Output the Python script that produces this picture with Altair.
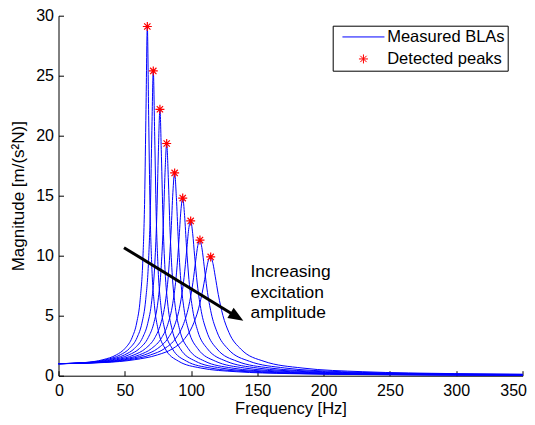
import altair as alt
import pandas as pd

FONT = "Liberation Sans"

# ---- data ----
peak_freq = [67.0, 71.5, 76.5, 81.6, 87.6, 93.7, 99.7, 106.7, 114.8]
peak_mag = [29.1, 25.4, 22.2, 19.35, 16.9, 14.8, 12.9, 11.3, 9.9]

freq_1 = [0, 20.1, 33.5, 43.55, 50.25, 55.61, 58.96, 61.64, 63.65, 64.99, 66.0, 67.0, 68.0, 69.01, 70.35, 72.36, 75.04, 80.4, 90.45, 107.2, 134.0, 174.2, 234.5, 350]
mag_1 = [1.0, 1.099, 1.333, 1.732, 2.282, 3.201, 4.393, 6.377, 9.726, 14.74, 22.18, 29.1, 21.67, 14.2, 9.203, 5.865, 3.887, 2.263, 1.214, 0.641, 0.333, 0.174, 0.089, 0.038]

freq_2 = [0, 21.45, 35.75, 46.48, 53.63, 59.35, 62.92, 65.78, 67.93, 69.36, 70.43, 71.5, 72.57, 73.65, 75.08, 77.22, 80.08, 85.8, 96.53, 114.4, 143.0, 185.9, 250.3, 350]
mag_2 = [1.0, 1.099, 1.333, 1.732, 2.281, 3.197, 4.381, 6.337, 9.576, 14.21, 20.45, 25.4, 19.96, 13.67, 9.048, 5.822, 3.873, 2.26, 1.213, 0.641, 0.333, 0.174, 0.089, 0.044]

freq_3 = [0, 22.95, 38.25, 49.73, 57.38, 63.5, 67.32, 70.38, 72.68, 74.21, 75.35, 76.5, 77.65, 78.8, 80.33, 82.62, 85.68, 91.8, 103.3, 122.4, 153.0, 198.9, 267.8, 350]
mag_3 = [1.0, 1.099, 1.333, 1.732, 2.279, 3.191, 4.366, 6.286, 9.392, 13.61, 18.71, 22.2, 18.25, 13.06, 8.858, 5.768, 3.856, 2.256, 1.212, 0.641, 0.333, 0.174, 0.089, 0.05]

freq_4 = [0, 24.48, 40.8, 53.04, 61.2, 67.73, 71.81, 75.07, 77.52, 79.15, 80.38, 81.6, 82.82, 84.05, 85.68, 88.13, 91.39, 97.92, 110.2, 130.6, 163.2, 212.2, 285.6, 350]
mag_4 = [1.0, 1.099, 1.333, 1.732, 2.277, 3.184, 4.345, 6.219, 9.161, 12.9, 16.96, 19.35, 16.52, 12.36, 8.622, 5.698, 3.833, 2.25, 1.211, 0.641, 0.333, 0.174, 0.089, 0.058]

freq_5 = [0, 26.28, 43.8, 56.94, 65.7, 72.71, 77.09, 80.59, 83.22, 84.97, 86.29, 87.6, 88.91, 90.23, 91.98, 94.61, 98.11, 105.1, 118.3, 140.2, 175.2, 227.8, 306.6, 350]
mag_5 = [1.0, 1.099, 1.333, 1.732, 2.274, 3.175, 4.319, 6.136, 8.886, 12.14, 15.28, 16.9, 14.87, 11.61, 8.343, 5.61, 3.804, 2.244, 1.21, 0.641, 0.333, 0.174, 0.089, 0.067]

freq_6 = [0, 28.11, 46.85, 60.91, 70.28, 77.77, 82.46, 86.2, 89.02, 90.89, 92.29, 93.7, 95.11, 96.51, 98.39, 101.2, 104.9, 112.4, 126.5, 149.9, 187.4, 243.6, 328.0, 350]
mag_6 = [1.0, 1.099, 1.333, 1.732, 2.271, 3.163, 4.286, 6.035, 8.567, 11.33, 13.72, 14.8, 13.34, 10.81, 8.022, 5.504, 3.768, 2.235, 1.208, 0.641, 0.333, 0.174, 0.089, 0.077]

freq_7 = [0, 29.91, 49.85, 64.81, 74.78, 82.75, 87.74, 91.72, 94.72, 96.71, 98.2, 99.7, 101.2, 102.7, 104.7, 107.7, 111.7, 119.6, 134.6, 159.5, 199.4, 259.2, 350]
mag_7 = [1.0, 1.099, 1.333, 1.732, 2.266, 3.148, 4.243, 5.905, 8.184, 10.46, 12.2, 12.9, 11.86, 9.958, 7.64, 5.368, 3.72, 2.224, 1.206, 0.641, 0.333, 0.174, 0.088]

freq_8 = [0, 32.01, 53.35, 69.36, 80.03, 88.56, 93.9, 98.16, 101.4, 103.5, 105.1, 106.7, 108.3, 109.9, 112.0, 115.2, 119.5, 128.0, 144.0, 170.7, 213.4, 277.4, 350]
mag_8 = [1.0, 1.099, 1.333, 1.732, 2.26, 3.128, 4.19, 5.752, 7.768, 9.595, 10.86, 11.3, 10.55, 9.122, 7.228, 5.211, 3.663, 2.209, 1.203, 0.641, 0.333, 0.174, 0.107]

freq_9 = [0, 34.44, 57.4, 74.62, 86.1, 95.28, 101.0, 105.6, 109.1, 111.4, 113.1, 114.8, 116.5, 118.2, 120.5, 124.0, 128.6, 137.8, 155.0, 183.7, 229.6, 298.5, 350]
mag_9 = [1.0, 1.099, 1.333, 1.732, 2.252, 3.104, 4.124, 5.57, 7.31, 8.74, 9.629, 9.9, 9.356, 8.295, 6.78, 5.026, 3.592, 2.191, 1.199, 0.641, 0.333, 0.174, 0.12]

series_names = ["Measured BLAs", "Detected peaks"]

arrow_x = [49.4, 130.4]
arrow_y = [10.67, 5.19]
arrow_tip_x = [139.4]
arrow_tip_y = [4.58]

note_lines = ["Increasing", "excitation", "amplitude"]
note_x = [144.8, 144.8, 144.8]
note_y = [8.64, 6.89, 5.23]

x_ticks = [0, 50, 100, 150, 200, 250, 300, 350]
y_ticks = [0, 5, 10, 15, 20, 25, 30]

# ---- tables ----
curves = [(freq_1, mag_1), (freq_2, mag_2), (freq_3, mag_3), (freq_4, mag_4),
          (freq_5, mag_5), (freq_6, mag_6), (freq_7, mag_7), (freq_8, mag_8),
          (freq_9, mag_9)]
rows = []
for i, (fs, ms) in enumerate(curves):
    for f, m in zip(fs, ms):
        rows.append({"curve": i, "freq": f, "mag": m})
lines_df = pd.DataFrame(rows)
peaks_df = pd.DataFrame({"freq": peak_freq, "mag": peak_mag,
                         "series": ["Detected peaks"] * len(peak_freq)})
arrow_df = pd.DataFrame({"freq": arrow_x, "mag": arrow_y})
tip_df = pd.DataFrame({"freq": arrow_tip_x, "mag": arrow_tip_y})
note_df = pd.DataFrame({"freq": note_x, "mag": note_y, "text": note_lines})

W, H = 464, 360
xs = alt.Scale(domain=[0, 350], nice=False, zero=False)
ys = alt.Scale(domain=[0, 30], nice=False, zero=False)
INWARD = alt.ExprRef(expr="-5")

ASTERISK = "M-1,0L1,0M0,-1L0,1M-0.7,-0.7L0.7,0.7M-0.7,0.7L0.7,-0.7"
LINE_SYM = "M-4.67,0L4.67,0"
ARROW_HEAD = "M0,0L-1,-0.4L-1,0.4Z"

x_axis = alt.Axis(orient="bottom", values=x_ticks, ticks=True, tickSize=INWARD,
                  labelPadding=11.7, labelFlush=True, labelFlushOffset=4,
                  title="Frequency [Hz]", titleFontSize=16.5,
                  titleBaseline="alphabetic", titleY=37.5, grid=False)
y_axis = alt.Axis(orient="left", values=y_ticks, ticks=True, tickSize=INWARD,
                  labelPadding=10, labelFlush=False,
                  title="Magnitude [m/(s\u00b2N)]", titlePadding=8, grid=False)

lines = alt.Chart(lines_df).mark_line(
    color="#0000ff", strokeWidth=1, interpolate="monotone"
).encode(
    x=alt.X("freq:Q", scale=xs, axis=x_axis),
    y=alt.Y("mag:Q", scale=ys, axis=y_axis),
    detail="curve:N",
    order="freq:Q",
)

peaks = alt.Chart(peaks_df).mark_point(
    filled=False, strokeWidth=1.2, size=81, opacity=1
).encode(
    x=alt.X("freq:Q", scale=xs),
    y=alt.Y("mag:Q", scale=ys),
    color=alt.Color("series:N", scale=alt.Scale(domain=series_names,
                                                range=["#0000ff", "#ff0000"]),
                    legend=alt.Legend(
                        title=None, orient="none", legendX=274.2, legendY=10,
                        strokeColor="black", fillColor="white", padding=3,
                        symbolSize=81, symbolStrokeWidth=1, symbolOffset=19.5,
                        labelOffset=15.5, labelFontSize=16.5, labelFont=FONT,
                        labelColor="black", rowPadding=5, cornerRadius=0)),
    shape=alt.Shape("series:N", scale=alt.Scale(domain=series_names,
                                                range=[LINE_SYM, ASTERISK])),
)

arrow = alt.Chart(arrow_df).mark_line(
    color="black", strokeWidth=3, strokeCap="butt"
).encode(
    x=alt.X("freq:Q", scale=xs),
    y=alt.Y("mag:Q", scale=ys),
)

tip = alt.Chart(tip_df).mark_point(
    shape=ARROW_HEAD, filled=True, color="black", size=900, angle=31.5, opacity=1
).encode(
    x=alt.X("freq:Q", scale=xs),
    y=alt.Y("mag:Q", scale=ys),
)

note = alt.Chart(note_df).mark_text(
    align="left", baseline="middle", font=FONT, fontSize=17.4, color="black"
).encode(
    x=alt.X("freq:Q", scale=xs),
    y=alt.Y("mag:Q", scale=ys),
    text="text:N",
)

chart = alt.layer(lines, peaks, arrow, tip, note).properties(
    width=W, height=H,
    autosize=alt.AutoSizeParams(type="none"),
    padding={"left": 50.5, "top": 7.7, "right": 4.5, "bottom": 41.3},
).configure_view(stroke=None).configure_axis(
    labelFont=FONT, titleFont=FONT, labelFontSize=16, titleFontSize=17,
    titleFontWeight="normal", labelColor="black", titleColor="black",
    domainColor="black", tickColor="black", domainWidth=1, tickWidth=1,
)

chart.save("out.html", embed_options={"renderer": "svg", "actions": False})
